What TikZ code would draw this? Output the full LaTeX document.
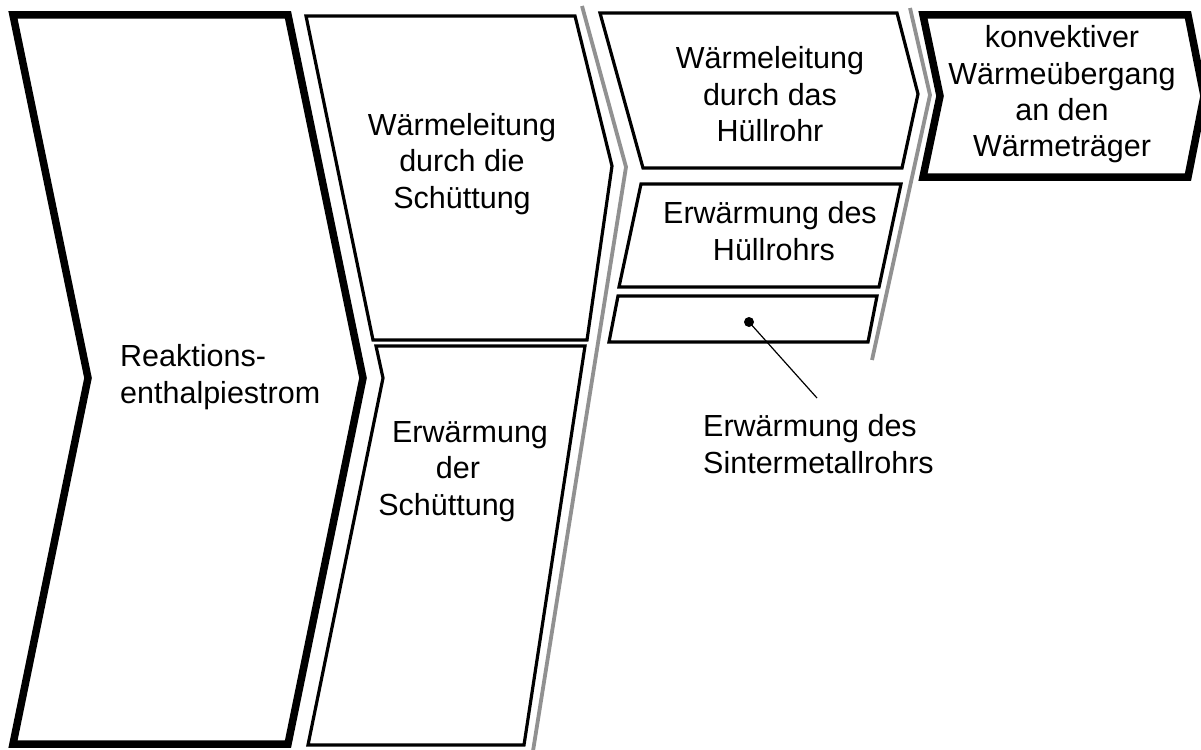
\documentclass[tikz,border=0pt]{standalone}
\usepackage{fontspec}
\setmainfont{Liberation Sans}
\definecolor{lgray}{RGB}{145,145,145}
\begin{document}
\begin{tikzpicture}[x=1pt,y=-1pt,
  thickbox/.style={draw=black,line width=7.5pt,line join=miter},
  thinbox/.style={draw=black,line width=3.2pt,line join=miter},
  grayline/.style={draw=lgray,line width=3.8pt,line join=miter},
  txt/.style={font=\fontsize{30.5}{36.5}\selectfont,inner sep=0pt,anchor=base},
  leader/.style={draw=black,line width=1.2pt}]
\useasboundingbox (0,0) rectangle (1201,749);
% big chevron
\draw[thickbox] (13,15) -- (288,15) -- (363,378) -- (288,744) -- (13,744) -- (88,378) -- cycle;
% column 2
\draw[thinbox] (306,16) -- (575,16) -- (612,166) -- (587,340) -- (373,340) -- cycle;
\draw[thinbox] (376,346) -- (585,346) -- (524,745) -- (308,745) -- (383,378) -- cycle;
\draw[grayline] (582,6) -- (626,167) -- (533,751);
% column 3
\draw[thinbox] (600,13) -- (897,13) -- (918,94) -- (902,168) -- (643,168) -- cycle;
\draw[thinbox] (641,184) -- (901,184) -- (879,287) -- (619,287) -- cycle;
\draw[thinbox] (618,296) -- (877,296) -- (868,342) -- (609,342) -- cycle;
\draw[grayline] (910,8) -- (930,95) -- (872,360);
% column 4
\draw[thickbox] (923,15) -- (1188,15) -- (1204,96) -- (1188,177) -- (923,177) -- (940,96) -- cycle;
% texts (base anchor = baseline of the last line)
\node[txt,align=left,anchor=base west] (reak) at (120,403) {Reaktions-\\enthalpiestrom};
\node[txt,align=center] (wls) at (462,208) {Wärmeleitung\\durch die\\Schüttung};
\node[txt,align=center] (ews) at (458,515) {\hspace*{24pt}Erwärmung\\der\\Schüttung\hspace*{22pt}};
\node[txt,align=center] (wlh) at (770,142) {Wärmeleitung\\durch das\\Hüllrohr};
\node[txt,align=center] (ewh) at (770,260) {Erwärmung des\\\hspace*{8pt}Hüllrohrs};
\node[txt,align=center] (kon) at (1062,157) {konvektiver\\Wärmeübergang\\an den\\Wärmeträger};
\node[txt,align=left,anchor=base west] (sint) at (703,473) {Erwärmung des\\Sintermetallrohrs};
% leader
\fill (749,322) circle (5pt) coordinate (dot);
\coordinate (lend) at (817,398);
\draw[leader] (dot) -- (lend);
\end{tikzpicture}
\end{document}
